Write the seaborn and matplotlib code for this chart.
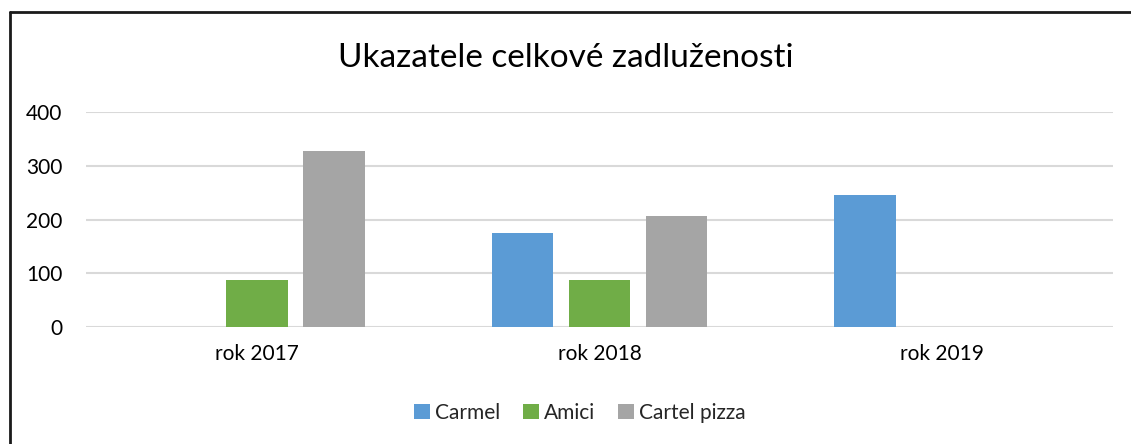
import numpy as np
import pandas as pd
import matplotlib.pyplot as plt
import seaborn as sns
from matplotlib.lines import Line2D

roky = ['rok 2017', 'rok 2018', 'rok 2019']
firmy = ['Carmel', 'Amici', 'Cartel pizza']
carmel = [0, 174, 245]
amici = [87, 87, 0]
cartel = [327, 206, 0]
barvy = ['#5B9BD5', '#70AD47', '#A5A5A5']

df = pd.DataFrame({
    'rok': roky * 3,
    'firma': [f for f in firmy for _ in roky],
    'hodnota': carmel + amici + cartel,
})

sns.set_theme(style='white')
plt.rcParams['font.family'] = ['Lato', 'DejaVu Sans']

fig = plt.figure(figsize=(11.31, 4.44), dpi=100)
ax = fig.add_axes([0.076, 0.2635, 0.908, 0.4842])

sns.barplot(data=df, x='rok', y='hodnota', hue='firma', hue_order=firmy,
            palette=barvy, width=0.675, gap=0.2, linewidth=0,
            saturation=1, ax=ax, legend=True)

ax.set_ylim(0, 400)
ax.set_yticks([0, 100, 200, 300, 400])
ax.yaxis.grid(True, color='#D9D9D9', linewidth=1.5)
ax.set_axisbelow(True)
for s in ax.spines.values():
    s.set_visible(False)
ax.set_xlabel('')
ax.set_ylabel('')
ax.tick_params(axis='y', labelsize=15, pad=17, length=0, colors='#000000')
ax.tick_params(axis='x', labelsize=15, pad=12, length=0, colors='#000000')
ax.set_xlim(-0.5, 2.5)

leg = ax.legend(loc='center', bbox_to_anchor=(0.481, -0.4), ncol=3, frameon=False,
                fontsize=15, handlelength=0.75, handleheight=0.75,
                handletextpad=0.25, columnspacing=1.1)

fig.text(0.5, 0.869, 'Ukazatele celkové zadluženosti', ha='center', va='center',
         fontsize=24, color='#000000')

# ramecek (jen levy a horni okraj)
fig.add_artist(Line2D([0.0085, 0.0085], [0, 0.973], transform=fig.transFigure,
                      color='#1a1a1a', linewidth=2))
fig.add_artist(Line2D([0.0085, 1.0], [0.973, 0.973], transform=fig.transFigure,
                      color='#1a1a1a', linewidth=2))

fig.savefig('out.png', dpi=100, facecolor='white')
